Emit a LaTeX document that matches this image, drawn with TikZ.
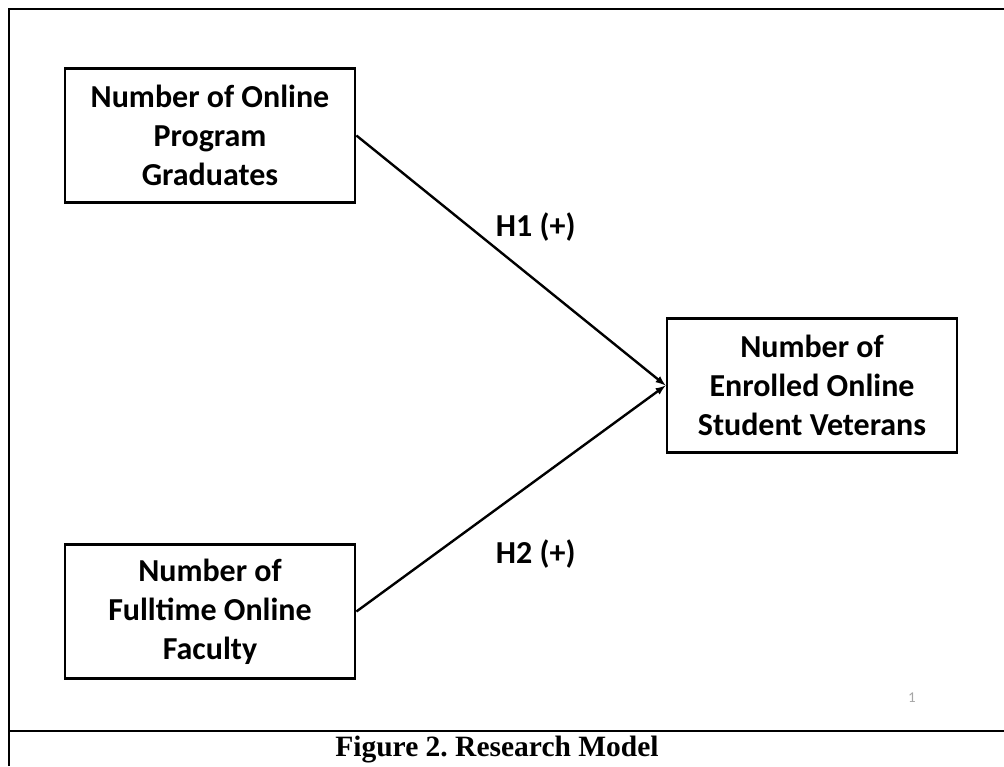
\documentclass[tikz,border=0pt]{standalone}
\usepackage{fontspec}
\setmainfont{Liberation Serif}
\newfontfamily\boxfont{Carlito}
\tikzset{>=latex}
\usetikzlibrary{positioning}
\tikzset{
  varbox/.style={draw, line width=2.8pt, rectangle, minimum width=290pt, minimum height=134pt, inner sep=0pt, align=center, font=\boxfont\bfseries\fontsize{32}{39}\selectfont},
  hlabel/.style={font=\boxfont\bfseries\fontsize{32}{36}\selectfont, inner sep=0pt},
  path/.style={->, line width=2.4pt}
}

\begin{document}
\frenchspacing
\begin{tikzpicture}[x=1pt, y=-1pt]
      \useasboundingbox (0,0) rectangle (1004,766);
      % frame
      \coordinate (c0) at (9,766);
      \coordinate (c1) at (9,9);
      \coordinate (c2) at (1004,9);
      \coordinate (c3) at (9,731);
      \coordinate (c4) at (1004,731);
      \draw[line width=2.4pt] (c0) -- (c1) -- (c2);
      \draw[line width=1.4pt] (c3) -- (c4);
      \draw[line width=2.4pt] (c3) -- ++(14,0);
      \draw[line width=2.4pt] (c4) -- ++(-20,0);
      \node[varbox] (n0) at (210,135.5) {Number of Online\\Program\\Graduates};
      \node[varbox, below of=n0, node distance=476pt] (n1) {Number of\\Fulltime Online\\Faculty};
      \node[varbox] (n2) at (812,385.5) {Number of\\Enrolled Online\\Student Veterans};
      \draw[path] (n0.east) to node[pos=0.58, above=38pt, hlabel]{H1 (+)} (n2.west);
      \draw[path] (n1.east) to node[pos=0.58, below=58pt, hlabel]{H2 (+)} (n2.west);
      \node[font=\boxfont\fontsize{15}{17}\selectfont, text=gray!70] (pg) at (912,698) {1};
      \node[font=\bfseries\fontsize{29.5}{34}\selectfont, inner sep=0pt] (cap) at (497,750) {Figure 2. Research Model};
    \end{tikzpicture}
\end{document}
